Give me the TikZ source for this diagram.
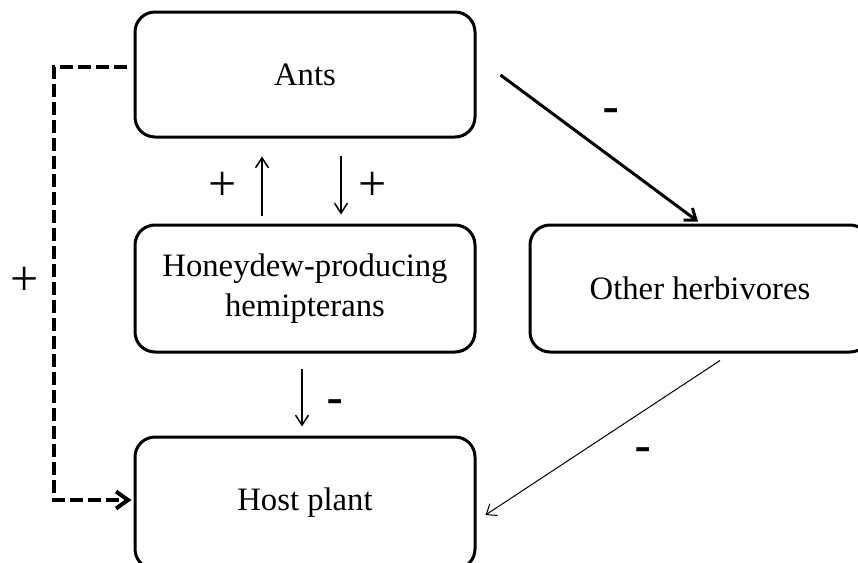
\documentclass[tikz,border=0pt]{standalone}
\usepackage{fontspec}
\setmainfont{Liberation Serif}
\newfontfamily\signfont{Liberation Sans}
\usetikzlibrary{arrows.meta}
\begin{document}
\begin{tikzpicture}[x=1pt,y=-1pt,
  box/.style={draw,line width=3pt,rounded corners=20pt,minimum width=340pt,inner sep=0pt,
    align=center,font=\fontsize{32.7}{40}\selectfont},
  thinarrow/.style={line width=1.5pt,-{Straight Barb[length=10pt,width=13pt,line width=1.5pt]}},
  thickarrow/.style={line width=3pt,-{Straight Barb[length=10pt,width=15pt,line width=3pt]}},
  hairarrow/.style={line width=1pt,-{Straight Barb[length=9pt,width=14pt,line width=1pt]}},
  dasharrow/.style={line width=4pt,dash pattern=on 13pt off 5pt,-{Straight Barb[length=12pt,width=17pt,line width=4pt]}},
  plussign/.style={font=\fontsize{50}{50}\selectfont,inner sep=0pt},
  minussign/.style={font=\signfont\fontsize{52}{52}\selectfont,inner sep=0pt}]
\useasboundingbox (0,0) rectangle (858,562);
\clip (0,0) rectangle (858,562);
\node[box,minimum height=125pt] (ants) at (305,74.5) {Ants};
\node[box,minimum height=127pt] (hd) at (305,288.5) {Honeydew-producing\\hemipterans};
\node[box,minimum height=127pt] (other) at (700,288.5) {Other herbivores};
\node[box,minimum height=132pt] (host) at (305,503) {Host plant};
% ants <-> honeydew
\draw[thinarrow] ([xshift=-43pt,yshift=8pt]hd.north) -- ([xshift=-43pt,yshift=-18pt]ants.south);
\draw[thinarrow] ([xshift=36pt,yshift=-17pt]ants.south) -- ([xshift=36pt,yshift=9pt]hd.north);
\node[plussign] (p1) at (223,186) {+};
\node[plussign] (p2) at (373,186) {+};
% honeydew -> host
\draw[thinarrow] ([xshift=-3pt,yshift=-15pt]hd.south) -- ([xshift=-3pt,yshift=9pt]host.north);
\node[minussign] (m2) at (335,408) {-};
% ants -> other
\draw[thickarrow] ([xshift=24pt,yshift=-0.5pt]ants.east) -- ([xshift=-2pt,yshift=2pt]other.north);
\node[minussign] (m1) at (611,117) {-};
% other -> host
\draw[hairarrow] ([xshift=20pt,yshift=-7pt]other.south) -- ([xshift=9pt,yshift=-12pt]host.east);
\node[minussign] (m3) at (643,456) {-};
% dashed ants -> host
\draw[dasharrow] ([xshift=-7pt,yshift=7.5pt]ants.west) -- ++(-73pt,0) |- ([xshift=-2pt,yshift=3pt]host.west);
\node[plussign] (p3) at (25,281) {+};
\end{tikzpicture}
\end{document}
